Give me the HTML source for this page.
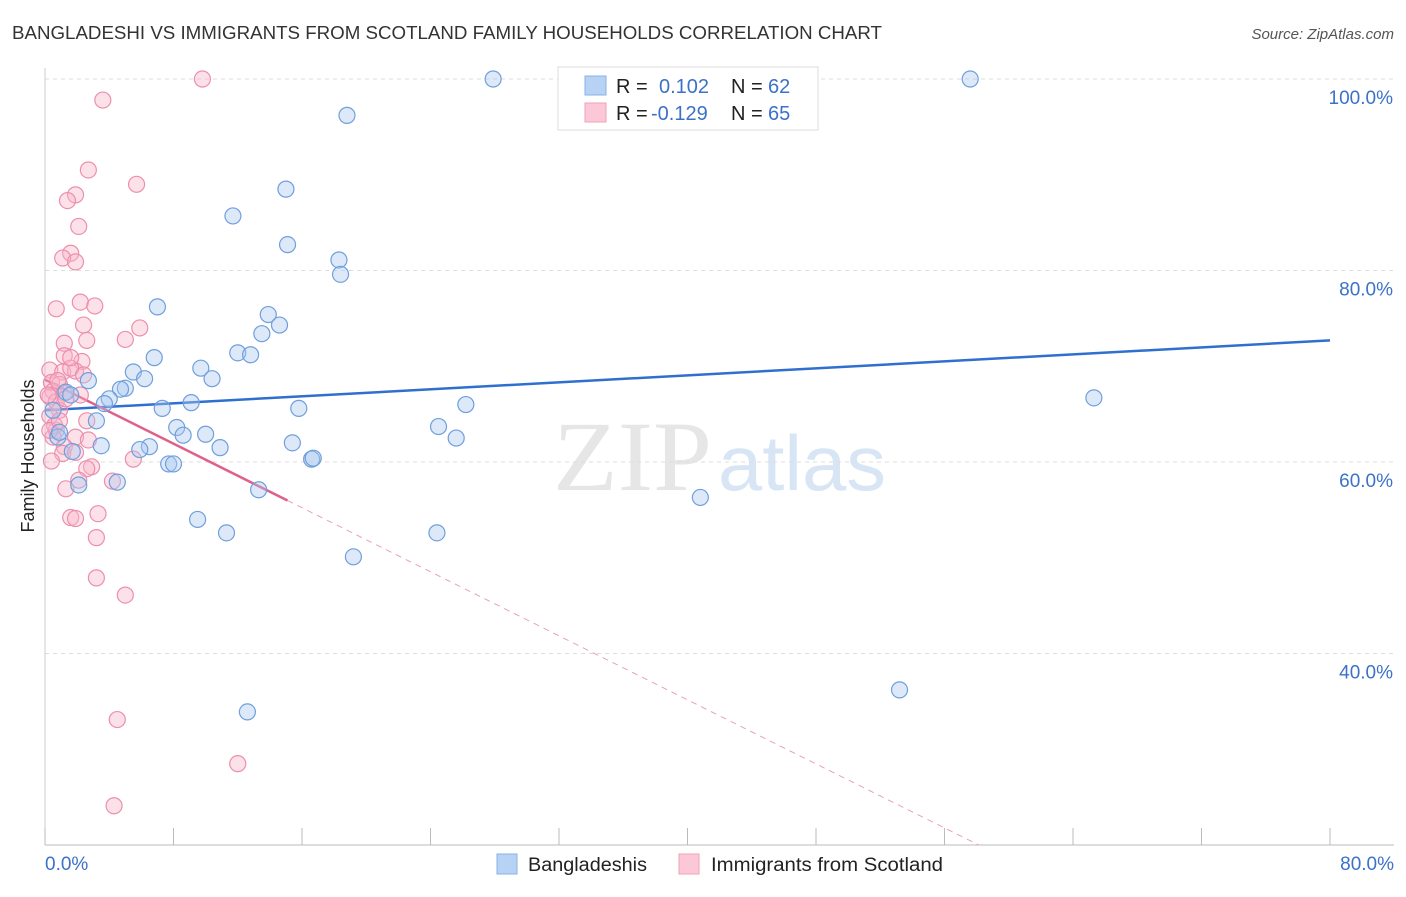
<!DOCTYPE html>
<html><head><meta charset="utf-8"><style>
body{margin:0;background:#fff;font-family:"Liberation Sans",sans-serif}
svg text{font-family:"Liberation Sans",sans-serif}
</style></head><body>
<svg id="chart" width="1406" height="892">
<text x="12" y="39" font-size="18" fill="#333" textLength="870" lengthAdjust="spacingAndGlyphs">BANGLADESHI VS IMMIGRANTS FROM SCOTLAND FAMILY HOUSEHOLDS CORRELATION CHART</text>
<text x="1394" y="39" font-size="15" fill="#555" text-anchor="end" font-style="italic">Source: ZipAtlas.com</text>
<text x="553" y="490" font-size="100" fill="#e6e6e6" style="font-family:'Liberation Serif',serif" textLength="159" lengthAdjust="spacingAndGlyphs">ZIP</text>
<text x="718" y="490" font-size="78" fill="#d8e5f5" textLength="168" lengthAdjust="spacingAndGlyphs">atlas</text>
<text transform="translate(34,456) rotate(-90)" font-size="18" fill="#222" text-anchor="middle">Family Households</text>
<g id="grid"></g><g id="axes"></g><g id="trend"></g><g id="pts"></g>
<g>
<rect x="558" y="67" width="260" height="63" fill="#fff" stroke="#ddd"/>
<rect x="585" y="76" width="21" height="19" fill="#b7d2f5" stroke="#8ab2e6"/>
<rect x="585" y="103" width="21" height="19" fill="#fcc8d8" stroke="#f0a0b8"/>
<text x="616" y="93" font-size="20" fill="#222">R =</text><text x="659" y="93" font-size="20" fill="#3b72c8">0.102</text>
<text x="731" y="93" font-size="20" fill="#222">N =</text><text x="768" y="93" font-size="20" fill="#3b72c8">62</text>
<text x="616" y="120" font-size="20" fill="#222">R =</text><text x="651" y="120" font-size="20" fill="#3b72c8">-0.129</text>
<text x="731" y="120" font-size="20" fill="#222">N =</text><text x="768" y="120" font-size="20" fill="#3b72c8">65</text>
</g>
<g>
<rect x="497" y="854" width="20" height="20" fill="#b7d2f5" stroke="#8ab2e6"/>
<text x="528" y="871" font-size="19" fill="#222" textLength="119" lengthAdjust="spacingAndGlyphs">Bangladeshis</text>
<rect x="679" y="854" width="20" height="20" fill="#fcc8d8" stroke="#f0a0b8"/>
<text x="711" y="871" font-size="19" fill="#222" textLength="232" lengthAdjust="spacingAndGlyphs">Immigrants from Scotland</text>
</g>
</svg>
<script>
const blueX=[27.9,57.6,18.8,15.0,11.7,15.1,18.3,18.4,7.0,13.9,14.6,13.5,12.0,12.8,6.8,9.7,5.5,6.2,10.4,2.7,5.0,4.7,1.3,4.0,3.7,9.1,7.3,15.8,26.2,65.3,3.2,8.2,10.0,8.6,0.8,3.5,6.5,5.9,10.9,15.4,24.5,25.6,16.6,16.7,7.7,8.0,1.7,4.5,2.1,13.3,40.8,9.5,11.3,24.4,19.2,12.6,53.2,0.9,0.5,1.6];
const blueY=[100,100,96.2,88.5,85.7,82.7,81.1,79.6,76.2,75.4,74.3,73.4,71.4,71.2,70.9,69.8,69.4,68.7,68.7,68.5,67.7,67.6,67.3,66.6,66.1,66.2,65.6,65.6,66.0,66.7,64.3,63.6,62.9,62.8,62.6,61.7,61.6,61.3,61.5,62.0,63.7,62.5,60.3,60.4,59.8,59.8,61.1,57.9,57.6,57.1,56.3,54.0,52.6,52.6,50.1,33.9,36.2,63.1,65.4,67.0];
const pinkX=[9.8,3.6,2.7,5.7,1.9,1.4,2.1,1.6,1.1,1.9,0.7,2.2,3.1,2.4,5.9,2.6,5.0,1.2,1.2,2.3,0.3,1.1,1.9,1.6,2.4,0.4,0.9,0.5,1.2,0.3,0.7,0.9,0.3,2.6,0.7,0.5,1.9,1.2,2.7,1.1,1.9,0.4,5.5,2.9,2.6,4.2,2.1,1.3,3.3,1.6,1.9,3.2,3.2,5.0,4.5,12.0,4.3,0.6,0.2,0.8,1.3,0.3,0.9,2.2,1.6];
const pinkY=[100,97.8,90.5,89.0,87.9,87.3,84.6,81.8,81.3,80.9,76.0,76.7,76.3,74.3,74.0,72.7,72.8,72.4,71.1,70.5,69.6,69.4,69.5,69.8,69.1,68.3,68.1,67.4,67.2,66.8,66.3,65.4,64.8,64.3,63.3,62.6,62.6,61.6,62.3,60.9,61.0,60.1,60.3,59.5,59.3,58.0,58.1,57.2,54.6,54.2,54.1,52.1,47.9,46.1,33.1,28.5,24.1,63.8,67.0,68.5,66.6,63.3,64.3,67.0,70.9];
const yTicks=[100,80,60,40];
const yTickLabels=["100.0%","80.0%","60.0%","40.0%"];
const xTicks=[0,8,16,24,32,40,48,56,64,72,80];
const blueTrend=[65.4,72.7];
const pinkTrend=[68.6,-0.836];
const pinkSolidEnd=15.1;

const NS="http://www.w3.org/2000/svg";
const xs=v=>45+v*16.0625, ys=v=>79+(100-v)*9.575;
function mk(t,a,p){const e=document.createElementNS(NS,t);for(const k in a)e.setAttribute(k,a[k]);p.appendChild(e);return e;}
const grid=document.getElementById('grid'),axes=document.getElementById('axes'),tr=document.getElementById('trend'),pts=document.getElementById('pts');
yTicks.forEach((v,i)=>{
 const l=mk('line',{x1:45,x2:1394,y1:ys(v),y2:ys(v),stroke:'#ddd','stroke-dasharray':'4,4'},grid);
 
 
 const t=mk('text',{x:1393,y:ys(v)+25,'font-size':19,fill:'#3b72c8','text-anchor':'end'},axes);t.textContent=yTickLabels[i];
 
 
});
const ax=mk('line',{x1:45,x2:1394,y1:845,y2:845,stroke:'#bbb'},axes);


const ay=mk('line',{x1:45,x2:45,y1:68,y2:845,stroke:'#ccc'},axes);


xTicks.forEach(v=>{const l=mk('line',{x1:xs(v),x2:xs(v),y1:828,y2:845,stroke:'#bbb'},axes);
 
 });
let t=mk('text',{x:45,y:870,'font-size':19,fill:'#3b72c8'},axes);t.textContent='0.0%';


t=mk('text',{x:1394,y:870,'font-size':19,fill:'#3b72c8','text-anchor':'end'},axes);t.textContent='80.0%';


function dot(x,y,fill,stroke,name){const c=mk('circle',{cx:xs(x),cy:ys(y),r:8,fill:fill,stroke:stroke,'stroke-width':1.2},pts);
 
 }
pinkX.forEach((x,i)=>dot(x,pinkY[i],'rgba(250,180,200,0.4)','#ec8fae','point-scotland'));
blueX.forEach((x,i)=>dot(x,blueY[i],'rgba(170,200,240,0.4)','#6f9fdc','point-bangladeshi'));
let L=mk('line',{x1:xs(0),y1:ys(blueTrend[0]),x2:xs(80),y2:ys(blueTrend[1]),stroke:'#2f6fd0','stroke-width':2.5},tr);


const pEnd=(pinkTrend[0]-20)/-pinkTrend[1];
L=mk('line',{x1:xs(0),y1:ys(pinkTrend[0]),x2:xs(pinkSolidEnd),y2:ys(pinkTrend[0]+pinkTrend[1]*pinkSolidEnd),stroke:'#e0608c','stroke-width':2.5},tr);


L=mk('line',{x1:xs(pinkSolidEnd),y1:ys(pinkTrend[0]+pinkTrend[1]*pinkSolidEnd),x2:xs(pEnd),y2:ys(20),stroke:'#e9a0b8','stroke-width':1,'stroke-dasharray':'6,5'},tr);


</script>
</body></html>
